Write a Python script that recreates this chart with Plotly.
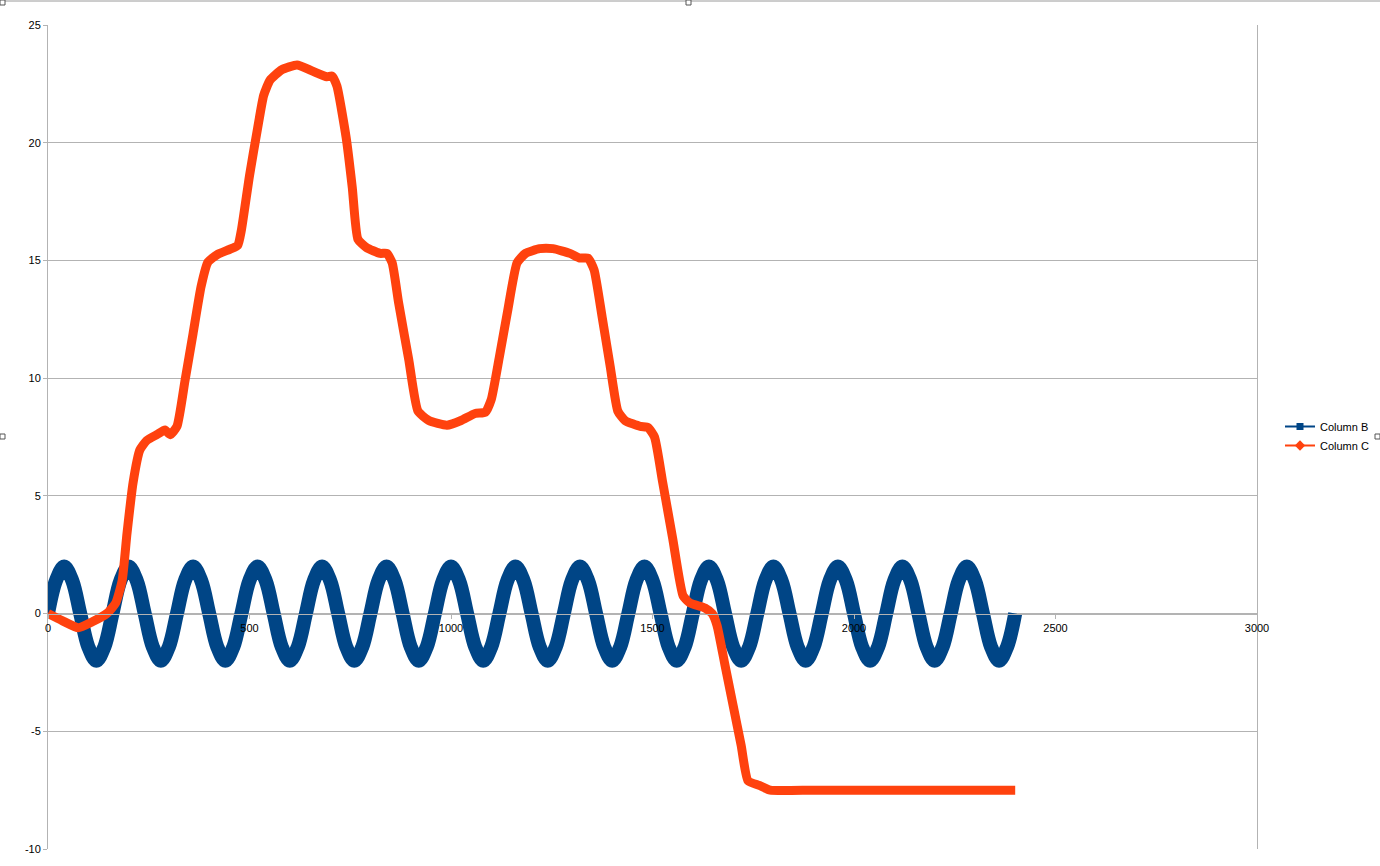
import plotly.graph_objects as go

# Column B: regular sampling of the oscillation
col_b_x = list(range(0, 2401, 20))
col_b_y = [
    0, 1.41, 2, 1.41, 0, -1.41, -2, -1.41,
    0, 1.41, 2, 1.41, 0, -1.41, -2, -1.41,
    0, 1.41, 2, 1.41, 0, -1.41, -2, -1.41,
    0, 1.41, 2, 1.41, 0, -1.41, -2, -1.41,
    0, 1.41, 2, 1.41, 0, -1.41, -2, -1.41,
    0, 1.41, 2, 1.41, 0, -1.41, -2, -1.41,
    0, 1.41, 2, 1.41, 0, -1.41, -2, -1.41,
    0, 1.41, 2, 1.41, 0, -1.41, -2, -1.41,
    0, 1.41, 2, 1.41, 0, -1.41, -2, -1.41,
    0, 1.41, 2, 1.41, 0, -1.41, -2, -1.41,
    0, 1.41, 2, 1.41, 0, -1.41, -2, -1.41,
    0, 1.41, 2, 1.41, 0, -1.41, -2, -1.41,
    0, 1.41, 2, 1.41, 0, -1.41, -2, -1.41,
    0, 1.41, 2, 1.41, 0, -1.41, -2, -1.41,
    0, 1.41, 2, 1.41, 0, -1.41, -2, -1.41,
    0,
]

# Column C
col_c_x = [
    0, 35, 75, 110, 146, 168, 184, 196, 211, 228, 245, 270, 290, 303, 320,
    340, 360, 380, 397, 420, 452, 471, 480, 500, 520, 535, 551, 580, 618,
    655, 692, 705, 717, 740, 755, 769, 790, 824, 841, 854, 870, 895, 918,
    945, 990, 1025, 1060, 1085, 1100, 1120, 1140, 1164, 1185, 1220, 1253,
    1295, 1320, 1340, 1355, 1375, 1395, 1414, 1432, 1470, 1489, 1505, 1525,
    1550, 1576, 1593, 1630, 1648, 1660, 1680, 1700, 1720, 1737, 1765, 1792,
    1900, 2100, 2400,
]
col_c_y = [
    0, -0.3, -0.6, -0.35, 0.0, 0.45, 1.4, 3.4, 5.55, 6.95, 7.35, 7.6, 7.8, 7.6, 7.95,
    9.9, 11.9, 13.9, 14.93, 15.25, 15.48, 15.65, 16.3, 18.6, 20.6, 22.0, 22.66, 23.1, 23.3,
    23.05, 22.8, 22.83, 22.4, 20.2, 18.1, 15.9, 15.55, 15.3, 15.3, 14.9, 13.2, 10.8, 8.6,
    8.2, 8.0, 8.2, 8.5, 8.55, 9.1, 10.9, 12.8, 14.9, 15.3, 15.5, 15.5,
    15.3, 15.1, 15.1, 14.6, 12.6, 10.5, 8.6, 8.2, 7.95, 7.9, 7.5, 5.6,
    3.2, 0.75, 0.45, 0.24, 0.0, -0.5, -2.2, -3.9, -5.6, -7.1, -7.3, -7.5,
    -7.5, -7.5, -7.5,
]

x_ticks = [0, 500, 1000, 1500, 2000, 2500, 3000]
y_ticks = [-10, -5, 0, 5, 10, 15, 20, 25]

BLUE = "#004586"
ORANGE = "#ff420e"
GRID = "#b3b3b3"
FONT = "Liberation Sans, Arial, sans-serif"

W, H = 1380, 866
L, R, T, B = 48, 1257, 25, 849


def px(xp, yp):
    return (xp - L) / (R - L), (B - yp) / (B - T)


fig = go.Figure()

fig.add_trace(go.Scatter(
    x=col_b_x, y=col_b_y, mode="lines", showlegend=False,
    line=dict(color=BLUE, width=14, shape="spline"),
))
fig.add_trace(go.Scatter(
    x=col_c_x, y=col_c_y, mode="lines", showlegend=False,
    line=dict(color=ORANGE, width=9, shape="spline", smoothing=0.5),
))

# legend entries
fig.add_trace(go.Scatter(
    x=[None], y=[None], mode="lines+markers", name="Column B",
    line=dict(color=BLUE, width=2), marker=dict(symbol="square", size=7, color=BLUE),
))
fig.add_trace(go.Scatter(
    x=[None], y=[None], mode="lines+markers", name="Column C",
    line=dict(color=ORANGE, width=2), marker=dict(symbol="diamond", size=8, color=ORANGE),
))

# selection frame handles
shapes = []
x0, y0 = px(0, 1)
x1, _ = px(W, 1)
shapes.append(dict(type="line", xref="paper", yref="paper", x0=x0, x1=x1, y0=y0, y1=y0,
                   line=dict(color="#9a9a9a", width=1)))
for hx, hy in [(0, 0), (686, 0), (0, 434), (1375, 434)]:
    a, b = px(hx, hy)
    c, d = px(hx + 5, hy + 5)
    shapes.append(dict(type="rect", xref="paper", yref="paper", x0=a, x1=c, y0=d, y1=b,
                       line=dict(color="#555555", width=1), fillcolor="white"))

lx, ly = px(1280, 436)

fig.update_layout(
    width=W, height=H,
    margin=dict(l=L, r=W - R, t=T, b=H - B, pad=0, autoexpand=False),
    paper_bgcolor="white", plot_bgcolor="white",
    font=dict(family=FONT, size=11, color="black"),
    shapes=shapes,
    legend=dict(x=lx, y=ly, xanchor="left", yanchor="middle",
                font=dict(family=FONT, size=11, color="black"),
                bgcolor="rgba(0,0,0,0)", itemwidth=30, tracegroupgap=0),
    xaxis=dict(
        range=[0, 3000], tickvals=x_ticks, ticktext=[str(v) for v in x_ticks],
        anchor="free", position=10 / 35,
        showline=True, linecolor=GRID, linewidth=1,
        ticks="outside", ticklen=4, tickcolor=GRID,
        showgrid=False, zeroline=False,
        tickfont=dict(family=FONT, size=11, color="black"),
    ),
    yaxis=dict(
        range=[-10, 25], tickvals=y_ticks, ticktext=[str(v) for v in y_ticks],
        showline=True, linecolor=GRID, linewidth=1, mirror=True,
        ticks="outside", ticklen=4, tickcolor=GRID,
        showgrid=True, gridcolor=GRID, gridwidth=1, zeroline=False,
        tickfont=dict(family=FONT, size=11, color="black"),
    ),
)

fig.write_html(
    "out.html",
    config={"displayModeBar": False},
    post_script="document.body.style.margin='0px';document.body.style.overflow='hidden';",
)
